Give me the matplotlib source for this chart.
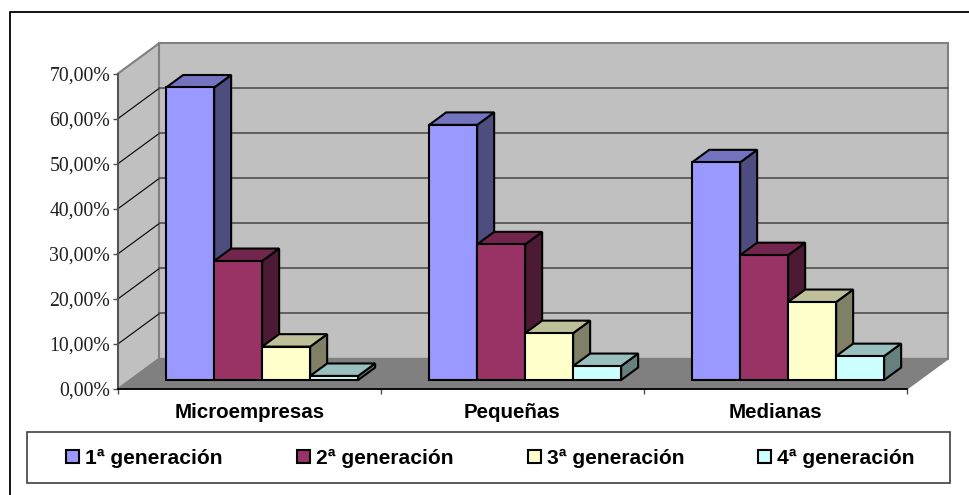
import numpy as np
import matplotlib
matplotlib.use("Agg")
import matplotlib.pyplot as plt
from matplotlib.patches import Patch, Polygon, Rectangle

categories = ['Microempresas', 'Pequeñas', 'Medianas']
series = ['1ª generación', '2ª generación', '3ª generación', '4ª generación']
gen1 = [64.9, 56.6, 48.3]
gen2 = [26.4, 30.1, 27.7]
gen3 = [7.4, 10.4, 17.3]
gen4 = [0.9, 3.1, 5.3]
yticks = [0, 10, 20, 30, 40, 50, 60, 70]
ytick_labels = ['0,00%', '10,00%', '20,00%', '30,00%', '40,00%', '50,00%', '60,00%', '70,00%']

front = ['#9999FF', '#993366', '#FFFFCC', '#CCFFFF']
top = ['#7373BF', '#73264D', '#BFBF99', '#99BFBF']
side = ['#4D4D80', '#4D1A33', '#808066', '#668080']

W, H = 970, 495
# depth of the box, in category units and percent
DX = 41.5 / 263
DY = 6.76
bar_w = 0.1825
gap = 0.1365
d_front = 0.295
d_bar = 0.41


def px(x0, y0, x1, y1):
    return [x0 / W, 1 - y1 / H, (x1 - x0) / W, (y1 - y0) / H]


def proj(x, y, d):
    return (x + d * DX, y + d * DY)


def face(ax, pts, z, fc, ec='black', lw=1.5):
    ax.add_patch(Polygon(pts, closed=True, facecolor=fc, edgecolor=ec, linewidth=lw,
                         joinstyle='miter', clip_on=False, zorder=z))


fig = plt.figure(figsize=(W / 100, H / 100), dpi=100)
ax = fig.add_axes(px(118, 73.5, 907, 389))
ax.patch.set_visible(False)
ax.set_xlim(0, 3)
ax.set_ylim(0, 70)

# walls and floor
face(ax, [proj(0, 0, 0), proj(0, 70, 0), proj(0, 70, 1), proj(0, 0, 1)], 1, '#C0C0C0', '#808080', 1.5)
face(ax, [proj(0, 0, 1), proj(0, 70, 1), proj(3, 70, 1), proj(3, 0, 1)], 1, '#C0C0C0', '#808080', 1.5)
face(ax, [proj(0, 0, 0), proj(3, 0, 0), proj(3, 0, 1), proj(0, 0, 1)], 2, '#808080', '#808080', 1)

for v in yticks[1:-1]:
    ax.plot(*zip(proj(0, v, 0), proj(0, v, 1)), color='black', lw=0.8, clip_on=False, zorder=3)
    ax.plot(*zip(proj(0, v, 1), proj(3, v, 1)), color='#505050', lw=1.2, clip_on=False, zorder=3)

# bars, left to right so each front hides the previous side face
z = 4
for c in range(len(categories)):
    for s, vals in enumerate([gen1, gen2, gen3, gen4]):
        v = vals[c]
        x0 = c + gap + s * bar_w
        x1 = x0 + bar_w
        d0, d1 = d_front, d_front + d_bar
        face(ax, [proj(x1, 0, d0), proj(x1, v, d0), proj(x1, v, d1), proj(x1, 0, d1)], z, side[s])
        face(ax, [proj(x0, v, d0), proj(x1, v, d0), proj(x1, v, d1), proj(x0, v, d1)], z, top[s])
        face(ax, [proj(x0, 0, d0), proj(x1, 0, d0), proj(x1, v, d0), proj(x0, v, d0)], z, front[s])
        z += 1

for name in ['top', 'right']:
    ax.spines[name].set_visible(False)
ax.spines['left'].set_color('#505050')
ax.spines['left'].set_linewidth(1.3)
ax.spines['bottom'].set_color('black')
ax.spines['bottom'].set_linewidth(1.3)
ax.spines['left'].set_zorder(50)
ax.spines['bottom'].set_zorder(50)

ax.set_yticks(yticks, labels=ytick_labels, family='Liberation Serif', fontsize=14.2, color='#202020')
ax.tick_params(axis='y', length=3.6, width=1, color='#505050', pad=2)
ax.set_xticks([0, 1, 2, 3], labels=[])
ax.tick_params(axis='x', which='major', length=3.6, width=1, color='#505050')
ax.set_xticks([0.5, 1.5, 2.5], labels=categories, minor=True, family='Liberation Sans',
              fontweight='bold', fontsize=14.8)
ax.tick_params(axis='x', which='minor', length=0, pad=10)

# outer frame runs off the right and bottom edges
fig.add_artist(plt.Line2D([10.5 / W, 10.5 / W, 1], [0, 1 - 12 / H, 1 - 12 / H], color='black', lw=1.3))
fig.add_artist(Rectangle((27.5 / W, 1 - 483 / H), 923 / W, 51 / H, facecolor='white',
                         edgecolor='#404040', linewidth=1.2, transform=fig.transFigure))

handles = [Patch(facecolor=f, edgecolor='black', linewidth=1.5) for f in front]
fig.legend(handles, series, ncol=4, loc='center', mode='expand', frameon=False,
           bbox_to_anchor=(66 / W, 1 - 470 / H, 849 / W, 23 / H), borderpad=0, borderaxespad=0,
           handlelength=0.62, handleheight=0.62, handletextpad=0.29,
           prop={'family': 'Liberation Sans', 'weight': 'bold', 'size': 15.1})

fig.savefig('out.png', dpi=100)
